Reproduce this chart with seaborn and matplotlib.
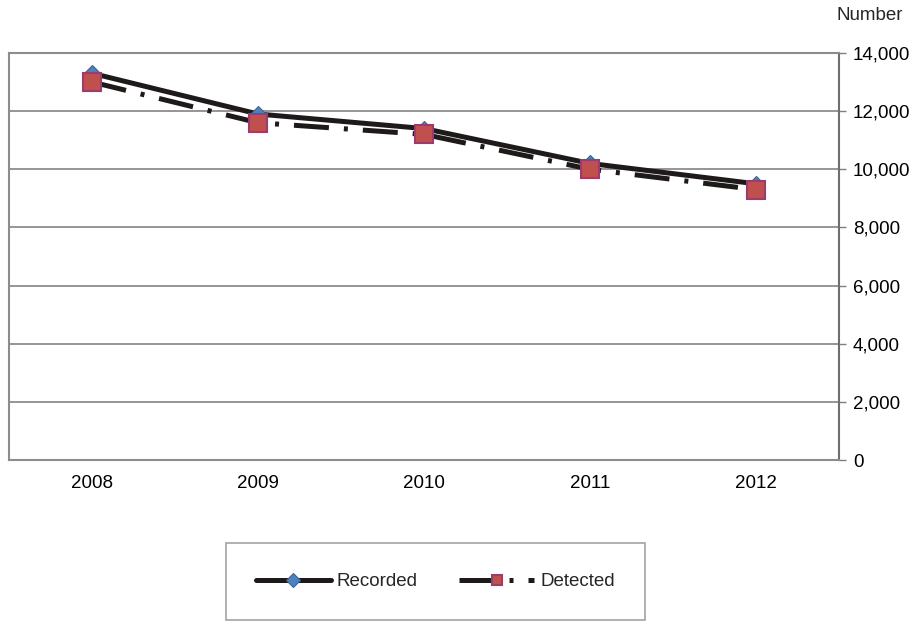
import matplotlib
matplotlib.use("Agg")
import matplotlib.pyplot as plt
import seaborn as sns
import pandas as pd

# values
years = ["2008", "2009", "2010", "2011", "2012"]
recorded = [13300, 11900, 11400, 10200, 9500]
detected = [13000, 11600, 11200, 10000, 9300]
y_ticks = [0, 2000, 4000, 6000, 8000, 10000, 12000, 14000]

sns.set_theme(style="white")
plt.rcParams["font.family"] = ["Liberation Sans", "DejaVu Sans"]

df = pd.DataFrame({"Year": years, "Recorded": recorded, "Detected": detected})

fig = plt.figure(figsize=(9.17, 6.23), dpi=100)
ax = fig.add_axes([0.0098, 0.2616, 0.9052, 0.6534])

sns.lineplot(data=df, x="Year", y="Recorded", ax=ax, color="#1f1a1a", linewidth=3.6,
             marker="D", markersize=8, markerfacecolor="#4F81BD",
             markeredgecolor="#3C6496", markeredgewidth=0.8, label="Recorded")
sns.lineplot(data=df, x="Year", y="Detected", ax=ax, color="#1f1a1a", linewidth=3.6,
             linestyle=(0, (7, 3, 0.8, 3)),
             marker="s", markersize=13.5, markerfacecolor="#C0504D",
             markeredgecolor="#9B3B6E", markeredgewidth=1.5, label="Detected")

ax.set_xlim(-0.5, 4.5)
ax.set_ylim(0, 14000)
ax.set_yticks(y_ticks)
ax.set_yticklabels([f"{v:,}" for v in y_ticks])
ax.yaxis.tick_right()
ax.tick_params(axis="y", which="major", right=True, left=False, length=5, width=1,
               color="#7f7f7f", labelsize=13.5, pad=5, labelcolor="black")
ax.tick_params(axis="x", bottom=False, labelsize=13.5, pad=5, labelcolor="black")
ax.set_xlabel("")
ax.set_ylabel("")
ax.grid(axis="y", color="#8c8c8c", linewidth=1.3)
ax.grid(axis="x", visible=False)
for side in ["left", "top", "bottom"]:
    ax.spines[side].set_color("#8c8c8c")
    ax.spines[side].set_linewidth(1.5)
ax.spines["right"].set_color("#6e6e6e")
ax.spines["right"].set_linewidth(1.5)

fig.text(0.949, 0.975, "Number", ha="center", va="center", fontsize=13.5)

handles, labels = ax.get_legend_handles_labels()
ax.get_legend().remove()
leg = fig.legend(handles, labels, loc="center", ncol=2,
                 bbox_to_anchor=(0.246, 0.002, 0.457, 0.128), mode="expand",
                 borderaxespad=0, fontsize=13.5, frameon=True, fancybox=False,
                 handlelength=4.0, borderpad=1.6, columnspacing=3.0, handletextpad=0.3)
leg.get_frame().set_edgecolor("#8c8c8c")
leg.get_frame().set_linewidth(1.2)
for h in leg.legend_handles:
    h.set_markersize(7)

fig.savefig("out.png", dpi=100)
